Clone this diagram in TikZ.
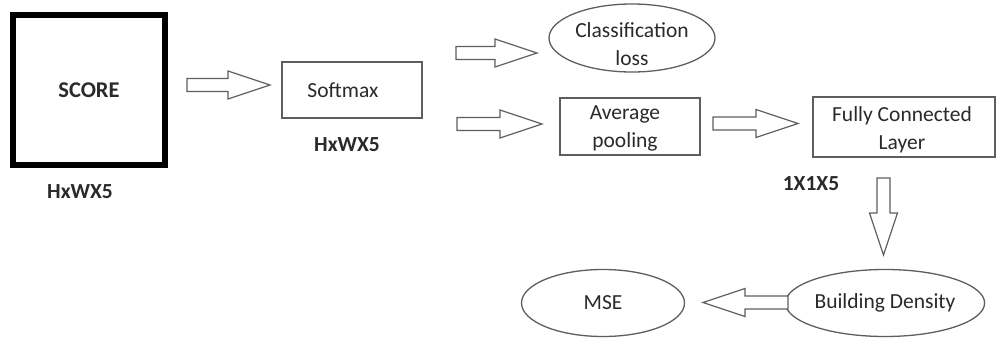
\documentclass[tikz,border=0pt]{standalone}
\usepackage{fontspec}
\setmainfont{Carlito}
\usetikzlibrary{shapes.geometric,calc}
\definecolor{txt}{HTML}{2A2A2A}
\definecolor{lin}{HTML}{5E5E5E}
\tikzset{
  box/.style={draw=lin,line width=1.5pt,rectangle,inner sep=0pt,align=center,text=txt,font=\fontsize{21.5}{28}\selectfont},
  oval/.style={draw=lin,line width=1.3pt,ellipse,inner sep=0pt,align=center,text=txt,font=\fontsize{21.5}{28}\selectfont},
  intext/.style={text=txt,align=center,font=\fontsize{21.5}{28}\selectfont,inner sep=0pt},
  dim/.style={text=txt,font=\fontsize{21.5}{24}\selectfont\bfseries,inner sep=0pt},
  barrow/.style={draw=lin,line width=1.2pt,fill=white,line join=miter}
}
\newcommand\barr[2]{%
 \draw[barrow] let \p1=(#1),\p2=(#2),\n1={atan2(\y2-\y1,\x2-\x1)} in
 ($(\p1)+(\n1+90:6.5pt)$) -- ($(\p2)+(\n1+180:42pt)+(\n1+90:6.5pt)$) -- ($(\p2)+(\n1+180:42pt)+(\n1+90:14pt)$) -- (\p2) -- ($(\p2)+(\n1+180:42pt)+(\n1-90:14pt)$) -- ($(\p2)+(\n1+180:42pt)+(\n1-90:6.5pt)$) -- ($(\p1)+(\n1-90:6.5pt)$) -- cycle;}
\begin{document}
\begin{tikzpicture}[x=1pt,y=-1pt]
\useasboundingbox[fill=white] (0,0) rectangle (996,342);
% nodes
\node[draw=black,line width=6pt,rectangle,minimum width=152pt,minimum height=150pt,inner sep=0pt,text=txt,font=\fontsize{22.5}{24}\selectfont\bfseries] (score) at (89,90) {SCORE};
\node[dim] (d1) at (80,192) {HxWX5};
\node[box,minimum width=140pt,minimum height=56pt] (soft) at (352,90) {Softmax\hspace{18pt}};
\node[dim] (d2) at (347,145) {HxWX5};
\node[oval,minimum width=166pt,minimum height=68pt,
  label={[intext,yshift=-6pt]center:Classification\\loss}] (cls) at (632,38) {};
\node[box,minimum width=140pt,minimum height=57pt,
  label={[intext,yshift=-2pt,xshift=-5pt]center:Average\\pooling}] (avg) at (630,126.5) {};
\node[box,minimum width=182pt,minimum height=60pt,
  label={[intext,yshift=-3pt,xshift=-2pt]center:Fully Connected\\Layer}] (fc) at (904,127) {};
\node[dim] (d3) at (811,184) {1X1X5};
\node[oval,minimum width=164pt,minimum height=67pt] (bd) at (885,303) {Building Density};
\node[oval,minimum width=163pt,minimum height=67pt] (mse) at (603,303) {MSE};
% arrow end points
\coordinate (a1t) at (187,85);   \coordinate (a1h) at (270,85);
\coordinate (a2t) at (456,53);   \coordinate (a2h) at (537,53);
\coordinate (a3t) at (457,124);  \coordinate (a3h) at (542,124);
\coordinate (a4t) at (713,123.5);\coordinate (a4h) at (798,123.5);
\coordinate (a5t) at (883.5,178);\coordinate (a5h) at (883.5,255);
\coordinate (a6t) at (788,302.5);\coordinate (a6h) at (703,302.5);
\barr{a1t}{a1h}
\barr{a2t}{a2h}
\barr{a3t}{a3h}
\barr{a4t}{a4h}
\barr{a5t}{a5h}
\barr{a6t}{a6h}
\end{tikzpicture}
\end{document}
